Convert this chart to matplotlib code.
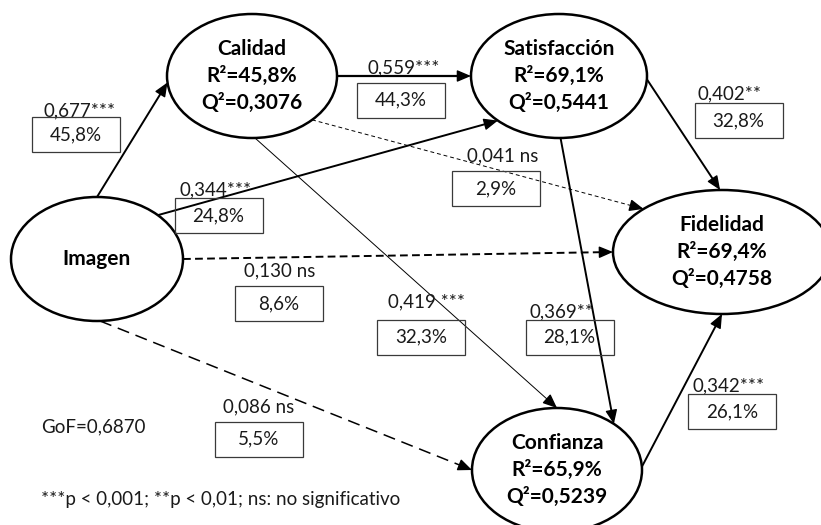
import numpy as np
import matplotlib
matplotlib.use('Agg')
import matplotlib.pyplot as plt
from matplotlib.patches import Ellipse, Rectangle

plt.rcParams['font.family'] = ['Lato', 'DejaVu Sans']

# constructs of the model
nodes = ['Imagen', 'Calidad', 'Satisfacción', 'Fidelidad', 'Confianza']
r2 = {'Calidad': '45,8%', 'Satisfacción': '69,1%', 'Fidelidad': '69,4%', 'Confianza': '65,9%'}
q2 = {'Calidad': '0,3076', 'Satisfacción': '0,5441', 'Fidelidad': '0,4758', 'Confianza': '0,5239'}

# paths: source, target, coefficient label, explained variance
sources = ['Imagen', 'Calidad', 'Imagen', 'Calidad', 'Imagen',
           'Calidad', 'Satisfacción', 'Satisfacción', 'Confianza', 'Imagen']
targets = ['Calidad', 'Satisfacción', 'Satisfacción', 'Fidelidad', 'Fidelidad',
           'Confianza', 'Confianza', 'Fidelidad', 'Fidelidad', 'Confianza']
coefs = ['0,677***', '0,559***', '0,344***', '0,041 ns', '0,130 ns',
         '0,419 ***', '0,369**', '0,402**', '0,342***', '0,086 ns']
pcts = ['45,8%', '44,3%', '24,8%', '2,9%', '8,6%',
        '32,3%', '28,1%', '32,8%', '26,1%', '5,5%']

gof = 'GoF=0,6870'
note = '***p < 0,001; **p < 0,01; ns: no significativo'

# ---- layout (pixel space, y downwards) ----
pos = {'Imagen': (97, 259), 'Calidad': (252, 76), 'Satisfacción': (559, 76),
       'Fidelidad': (722, 252), 'Confianza': (557, 470)}
semi = {'Imagen': (86, 62), 'Calidad': (85, 62), 'Satisfacción': (88, 62),
        'Fidelidad': (109, 62), 'Confianza': (85, 62)}
# attachment angles on source / target ellipse
ang = [(-90, 174), (0, 180), (-45, 134), (45, -136), (0, 180),
       (88, -90), (89, -48), (3, -91), (-3, 90), (88, 180)]
styles = [(1.4, '-'), (1.6, '-'), (1.4, '-'), (0.7, (0, (4, 3))), (1.4, (0, (4, 2.2))),
          (0.7, '-'), (1.4, '-'), (1.4, '-'), (1.4, '-'), (1.1, (0, (8, 4.5)))]
coef_xy = [(80, 116), (404, 73), (216, 195), (503, 161), (280, 276),
           (427, 307), (562, 317), (730, 99), (729, 391), (259, 412)]
box_xy = [(75.5, 134.5), (401, 100), (218.5, 215.5), (496, 188.5), (279, 303.5),
          (421, 337), (569.5, 337), (738.5, 120.5), (732, 411.5), (259, 439)]
BW, BH = 88, 35


def on_ellipse(name, deg):
    cx, cy = pos[name]
    a, b = semi[name]
    t = np.radians(deg)
    return np.array([cx + a * np.cos(t), cy + b * np.sin(t)])


fig = plt.figure(figsize=(8.21, 5.25), dpi=100)
ax = fig.add_axes([0, 0, 1, 1])
ax.set_xlim(0, 821)
ax.set_ylim(525, 0)
ax.axis('off')

# edges
for s, t, (a0, a1), (lw, ls) in zip(sources, targets, ang, styles):
    p0 = on_ellipse(s, a0)
    p1 = on_ellipse(t, a1)
    d = (p1 - p0) / np.linalg.norm(p1 - p0)
    pb = p1 - d * 10
    ax.plot([p0[0], pb[0]], [p0[1], pb[1]], color='black', lw=lw, linestyle=ls,
            solid_capstyle='butt', dash_capstyle='butt', zorder=2)
    ax.annotate('', xy=p1, xytext=p1 - d * 12,
                arrowprops=dict(arrowstyle='-|>,head_length=0.85,head_width=0.36',
                                mutation_scale=10, color='black', lw=1,
                                shrinkA=0, shrinkB=0), zorder=3)

# nodes
for n in nodes:
    cx, cy = pos[n]
    a, b = semi[n]
    ax.add_patch(Ellipse((cx, cy), 2 * a, 2 * b, facecolor='white',
                         edgecolor='black', lw=1.8, zorder=4))
    if n in r2:
        lines = [n, f'R²={r2[n]}', f'Q²={q2[n]}']
        for k, txt in enumerate(lines):
            ax.text(cx, cy + (k - 1) * 27, txt, ha='center', va='center',
                    fontsize=15, fontweight='bold', zorder=5)
    else:
        ax.text(cx, cy, n, ha='center', va='center', fontsize=15,
                fontweight='bold', zorder=5)

# path labels
for c, p, (tx, ty), (bx, by) in zip(coefs, pcts, coef_xy, box_xy):
    ax.text(tx, ty, c, ha='center', va='baseline', fontsize=13.5, color='#1a1a1a', zorder=6)
    ax.add_patch(Rectangle((bx - BW / 2, by - BH / 2), BW, BH, facecolor='none',
                           edgecolor='#3a3a3a', lw=0.9, zorder=6))
    ax.text(bx, by, p, ha='center', va='center', fontsize=13.5, color='#1a1a1a', zorder=6)

ax.text(41, 427, gof, ha='left', va='center', fontsize=13.5, color='#1a1a1a')
ax.text(41, 500, note, ha='left', va='center', fontsize=13.5, color='#1a1a1a')

fig.savefig('out.png', dpi=100)
